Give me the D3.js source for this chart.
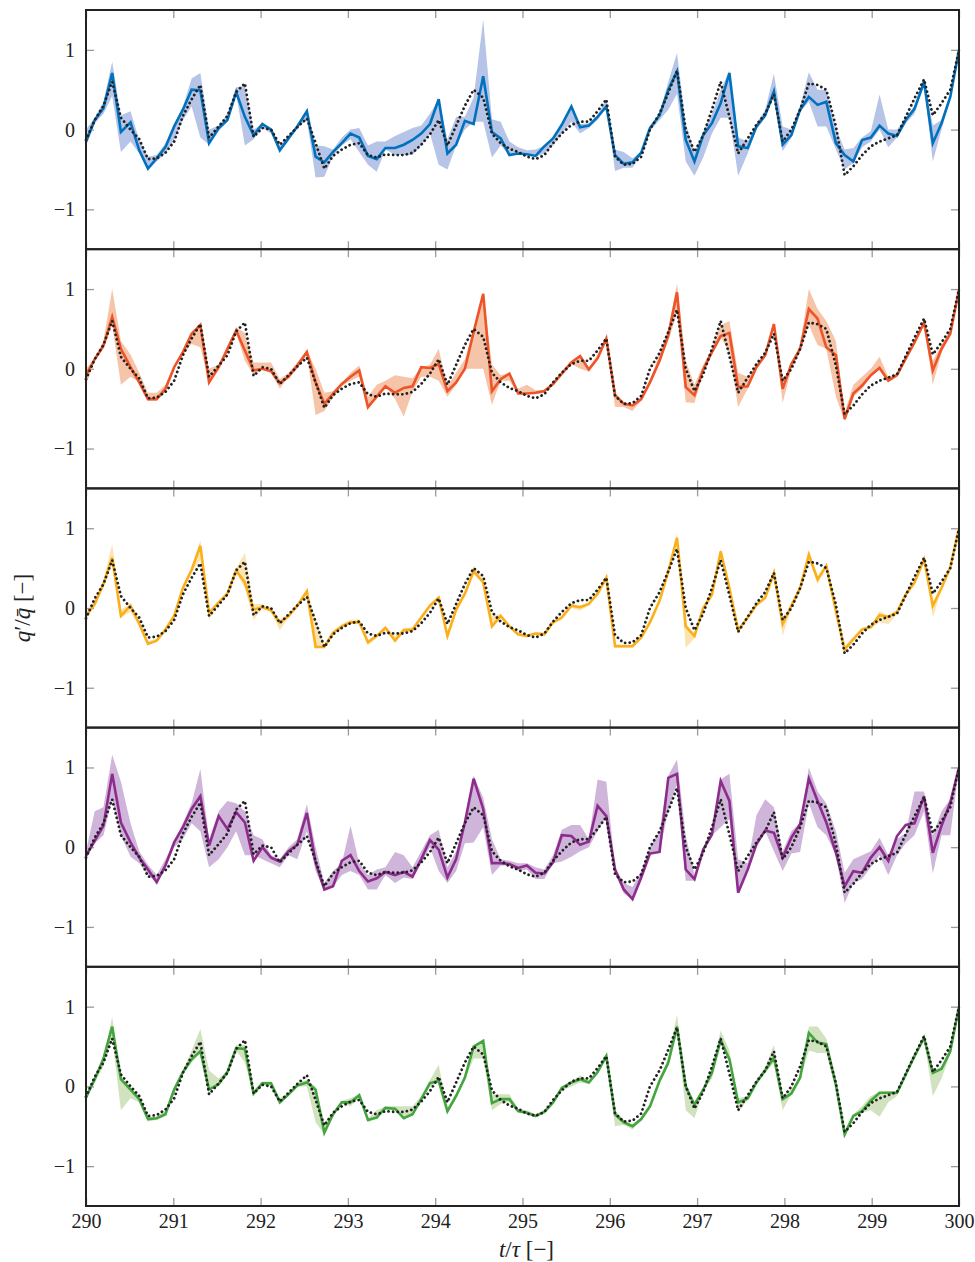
<!DOCTYPE html>
<html>
<head>
<meta charset="utf-8">
<script src="https://cdn.jsdelivr.net/npm/d3@7"></script>
<style>
body { margin: 0; background: #fff; }
svg { display: block; }
</style>
</head>
<body>
<div id="chart"></div>
<script>
const w = 975;
const h = 1262;

// sample times t/tau
const times = [
	290.00, 290.10, 290.20, 290.30, 290.40, 290.51, 290.61, 290.71, 290.81, 290.91,
	291.01, 291.11, 291.21, 291.31, 291.41, 291.52, 291.62, 291.72, 291.82, 291.92,
	292.02, 292.12, 292.22, 292.32, 292.42, 292.53, 292.63, 292.73, 292.83, 292.93,
	293.03, 293.13, 293.23, 293.33, 293.43, 293.54, 293.64, 293.74, 293.84, 293.94,
	294.04, 294.14, 294.24, 294.34, 294.44, 294.55, 294.65, 294.75, 294.85, 294.95,
	295.05, 295.15, 295.25, 295.35, 295.45, 295.56, 295.66, 295.76, 295.86, 295.96,
	296.06, 296.16, 296.26, 296.36, 296.46, 296.57, 296.67, 296.77, 296.87, 296.97,
	297.07, 297.17, 297.27, 297.37, 297.47, 297.58, 297.68, 297.78, 297.88, 297.98,
	298.08, 298.18, 298.28, 298.38, 298.48, 298.59, 298.69, 298.79, 298.89, 298.99,
	299.09, 299.19, 299.29, 299.39, 299.49, 299.60, 299.70, 299.80, 299.90, 300.00
];

// dotted reference signal (same in every panel)
const reference = [
	-0.13, 0.12, 0.30, 0.60, 0.15, 0.00, -0.12, -0.37, -0.36, -0.29,
	-0.15, 0.17, 0.38, 0.56, -0.10, 0.04, 0.17, 0.47, 0.58, -0.09,
	0.02, 0.00, -0.19, -0.08, 0.03, 0.14, -0.17, -0.49, -0.33, -0.25,
	-0.19, -0.17, -0.32, -0.35, -0.31, -0.32, -0.32, -0.29, -0.19, -0.06,
	0.12, -0.20, 0.05, 0.30, 0.50, 0.40, -0.05, -0.17, -0.24, -0.28,
	-0.34, -0.37, -0.32, -0.17, -0.05, 0.06, 0.10, 0.10, 0.23, 0.38,
	-0.34, -0.44, -0.43, -0.34, 0.00, 0.20, 0.46, 0.74, 0.00, -0.28,
	-0.07, 0.25, 0.60, 0.16, -0.30, -0.11, 0.06, 0.20, 0.44, -0.15,
	0.00, 0.25, 0.58, 0.56, 0.50, 0.04, -0.57, -0.46, -0.32, -0.21,
	-0.15, -0.11, -0.07, 0.16, 0.39, 0.63, 0.18, 0.33, 0.50, 1.00
];

const blueMean = [
	-0.15, 0.12, 0.27, 0.71, -0.03, 0.09, -0.26, -0.49, -0.36, -0.22,
	0.04, 0.25, 0.50, 0.49, -0.17, 0.02, 0.12, 0.47, 0.16, -0.07,
	0.07, 0.00, -0.26, -0.11, 0.04, 0.23, -0.34, -0.41, -0.28, -0.17,
	-0.05, -0.10, -0.33, -0.37, -0.23, -0.23, -0.19, -0.13, -0.05, 0.07,
	0.38, -0.30, -0.19, 0.11, 0.07, 0.67, -0.03, -0.11, -0.32, -0.30,
	-0.31, -0.33, -0.21, -0.11, 0.06, 0.29, 0.03, 0.05, 0.16, 0.29,
	-0.32, -0.43, -0.41, -0.29, 0.02, 0.18, 0.50, 0.73, -0.13, -0.40,
	-0.07, 0.08, 0.33, 0.71, -0.21, -0.23, 0.04, 0.18, 0.48, -0.19,
	-0.07, 0.25, 0.41, 0.31, 0.35, -0.17, -0.32, -0.40, -0.13, -0.10,
	0.05, -0.05, -0.08, 0.12, 0.26, 0.60, -0.17, 0.08, 0.41, 1.00
];
const blueLo = [
	-0.21, 0.08, 0.20, 0.42, -0.28, -0.15, -0.30, -0.50, -0.40, -0.30,
	-0.13, 0.12, 0.29, -0.10, -0.19, -0.02, 0.10, 0.45, -0.20, -0.12,
	0.02, -0.05, -0.27, -0.12, 0.02, 0.12, -0.60, -0.59, -0.33, -0.20,
	-0.12, -0.28, -0.44, -0.53, -0.25, -0.32, -0.32, -0.32, -0.20, -0.05,
	-0.44, -0.50, -0.20, 0.00, 0.10, 0.10, -0.35, -0.20, -0.32, -0.30,
	-0.32, -0.34, -0.30, -0.20, -0.05, 0.10, -0.05, 0.02, 0.12, 0.28,
	-0.52, -0.48, -0.48, -0.30, -0.02, 0.12, 0.25, 0.45, -0.40, -0.58,
	-0.35, -0.05, 0.15, 0.15, -0.58, -0.30, 0.00, 0.15, 0.40, -0.27,
	-0.10, 0.22, 0.35, 0.04, 0.04, -0.25, -0.50, -0.42, -0.22, -0.15,
	0.00, -0.22, -0.10, 0.08, 0.20, 0.55, -0.40, 0.00, 0.38, 1.00
];
const blueHi = [
	0.00, 0.15, 0.35, 0.85, 0.18, 0.23, -0.13, -0.34, -0.32, -0.17,
	0.06, 0.29, 0.64, 0.71, 0.00, 0.05, 0.20, 0.53, 0.55, 0.00,
	0.07, 0.02, -0.20, -0.07, 0.06, 0.20, -0.20, -0.21, -0.25, -0.10,
	0.00, 0.02, -0.20, -0.15, -0.15, -0.08, -0.03, 0.02, 0.05, 0.20,
	0.38, -0.12, 0.16, 0.16, 0.40, 1.38, 0.13, 0.10, -0.15, -0.22,
	-0.26, -0.25, -0.20, -0.10, 0.08, 0.29, 0.07, 0.08, 0.18, 0.38,
	-0.25, -0.28, -0.36, -0.28, 0.02, 0.20, 0.60, 0.96, 0.08, -0.28,
	-0.02, 0.20, 0.50, 0.74, -0.10, -0.15, 0.08, 0.25, 0.70, 0.04,
	0.00, 0.30, 0.72, 0.50, 0.50, 0.02, -0.25, -0.23, -0.10, -0.02,
	0.44, 0.00, 0.00, 0.15, 0.30, 0.65, 0.05, 0.12, 0.45, 1.00
];

const orangeMean = [
	-0.08, 0.12, 0.29, 0.65, 0.25, 0.02, -0.17, -0.38, -0.38, -0.25,
	0.02, 0.21, 0.44, 0.55, -0.17, 0.02, 0.25, 0.48, 0.23, -0.02,
	0.00, -0.03, -0.18, -0.10, 0.04, 0.21, -0.17, -0.44, -0.31, -0.19,
	-0.10, -0.02, -0.48, -0.35, -0.22, -0.30, -0.24, -0.22, 0.02, 0.01,
	0.06, -0.28, -0.17, 0.00, 0.46, 0.94, -0.28, -0.13, -0.06, -0.31,
	-0.31, -0.30, -0.28, -0.19, -0.06, 0.08, 0.16, -0.01, 0.13, 0.38,
	-0.33, -0.44, -0.46, -0.38, -0.17, 0.10, 0.42, 0.96, -0.23, -0.33,
	-0.01, 0.21, 0.41, 0.45, -0.23, -0.22, 0.02, 0.17, 0.56, -0.25,
	0.06, 0.25, 0.75, 0.63, 0.27, 0.17, -0.63, -0.31, -0.21, -0.08,
	0.01, -0.15, -0.08, 0.13, 0.33, 0.58, -0.02, 0.25, 0.44, 0.99
];
const orangeLo = [
	-0.20, 0.10, 0.25, 0.55, -0.20, -0.10, -0.17, -0.40, -0.40, -0.28,
	0.00, 0.18, 0.31, 0.27, -0.17, 0.00, 0.20, 0.45, 0.10, -0.08,
	0.00, -0.05, -0.25, -0.10, 0.00, 0.18, -0.58, -0.53, -0.36, -0.22,
	-0.15, -0.10, -0.48, -0.38, -0.22, -0.38, -0.60, -0.28, -0.10, -0.10,
	-0.15, -0.35, -0.20, 0.00, 0.00, 0.00, -0.45, -0.15, -0.15, -0.32,
	-0.32, -0.32, -0.30, -0.21, -0.08, 0.06, 0.00, -0.03, 0.12, 0.35,
	-0.48, -0.48, -0.53, -0.40, -0.19, 0.08, 0.35, 0.70, -0.42, -0.43,
	-0.05, 0.18, 0.40, 0.20, -0.48, -0.25, 0.00, 0.15, 0.50, -0.43,
	0.00, 0.22, 0.55, 0.30, 0.25, -0.35, -0.65, -0.35, -0.25, -0.10,
	0.00, -0.16, -0.10, 0.10, 0.30, 0.55, -0.20, 0.20, 0.42, 1.00
];
const orangeHi = [
	0.00, 0.13, 0.35, 1.00, 0.35, 0.18, -0.05, -0.30, -0.30, -0.20,
	0.05, 0.22, 0.45, 0.58, 0.00, 0.05, 0.28, 0.52, 0.45, 0.08,
	0.08, 0.08, -0.13, -0.05, 0.08, 0.23, 0.00, -0.30, -0.28, -0.18,
	-0.05, 0.04, -0.35, -0.20, -0.15, -0.08, -0.10, -0.12, 0.02, 0.05,
	0.25, -0.22, -0.05, 0.12, 0.50, 0.95, 0.05, -0.08, -0.05, -0.25,
	-0.20, -0.27, -0.27, -0.17, -0.04, 0.10, 0.18, 0.02, 0.18, 0.42,
	-0.30, -0.42, -0.44, -0.36, -0.15, 0.20, 0.50, 1.07, 0.10, -0.20,
	0.05, 0.25, 0.55, 0.60, -0.05, -0.10, 0.05, 0.20, 0.58, -0.15,
	0.06, 0.30, 1.00, 0.75, 0.60, 0.35, -0.55, -0.20, -0.10, 0.00,
	0.15, -0.10, -0.06, 0.16, 0.35, 0.62, 0.10, 0.30, 0.48, 1.00
];

const yellowMean = [
	-0.10, 0.05, 0.30, 0.63, -0.10, 0.03, -0.20, -0.45, -0.41, -0.27,
	-0.10, 0.25, 0.48, 0.78, -0.06, 0.07, 0.18, 0.47, 0.32, -0.02,
	0.01, -0.03, -0.18, -0.10, 0.03, 0.21, -0.49, -0.49, -0.31, -0.23,
	-0.18, -0.18, -0.43, -0.35, -0.25, -0.41, -0.28, -0.27, -0.12, 0.03,
	0.13, -0.35, -0.02, 0.18, 0.46, 0.32, -0.23, -0.10, -0.23, -0.33,
	-0.35, -0.32, -0.33, -0.18, -0.12, 0.03, 0.01, 0.05, 0.18, 0.38,
	-0.48, -0.48, -0.48, -0.37, -0.18, 0.09, 0.46, 0.88, -0.23, -0.35,
	0.00, 0.17, 0.71, 0.25, -0.28, -0.12, 0.04, 0.13, 0.44, -0.20,
	0.03, 0.25, 0.67, 0.36, 0.53, -0.04, -0.52, -0.39, -0.27, -0.24,
	-0.09, -0.11, -0.05, 0.17, 0.32, 0.61, 0.03, 0.25, 0.51, 1.00
];
const yellowLo = [
	-0.12, 0.03, 0.28, 0.55, -0.12, -0.05, -0.22, -0.46, -0.42, -0.28,
	-0.12, 0.22, 0.45, 0.60, -0.14, 0.05, 0.16, 0.44, 0.25, -0.15,
	0.00, -0.05, -0.28, -0.12, 0.00, 0.18, -0.50, -0.50, -0.33, -0.25,
	-0.20, -0.20, -0.47, -0.37, -0.27, -0.42, -0.30, -0.30, -0.14, 0.00,
	0.10, -0.40, -0.05, 0.15, 0.44, 0.30, -0.25, -0.12, -0.25, -0.35,
	-0.37, -0.34, -0.35, -0.20, -0.14, 0.00, -0.03, 0.03, 0.16, 0.36,
	-0.50, -0.50, -0.50, -0.39, -0.20, 0.07, 0.44, 0.85, -0.50, -0.38,
	-0.02, 0.12, 0.65, 0.22, -0.30, -0.14, 0.02, 0.10, 0.42, -0.35,
	0.00, 0.23, 0.60, 0.30, 0.50, -0.10, -0.55, -0.41, -0.29, -0.26,
	-0.18, -0.20, -0.08, 0.15, 0.30, 0.59, -0.12, 0.23, 0.49, 1.00
];
const yellowHi = [
	-0.05, 0.08, 0.35, 0.80, -0.02, 0.05, -0.15, -0.42, -0.38, -0.25,
	-0.08, 0.27, 0.50, 0.85, -0.05, 0.09, 0.20, 0.50, 0.69, 0.05,
	0.05, 0.00, -0.15, -0.08, 0.05, 0.23, -0.15, -0.45, -0.30, -0.20,
	-0.15, -0.14, -0.40, -0.33, -0.23, -0.35, -0.25, -0.24, -0.10, 0.05,
	0.15, -0.30, 0.00, 0.20, 0.53, 0.36, -0.10, -0.07, -0.21, -0.31,
	-0.33, -0.30, -0.31, -0.16, -0.10, 0.05, 0.03, 0.07, 0.20, 0.41,
	-0.45, -0.46, -0.46, -0.35, -0.16, 0.11, 0.48, 0.93, -0.20, -0.32,
	0.02, 0.20, 0.75, 0.28, -0.26, -0.10, 0.06, 0.15, 0.46, -0.18,
	0.05, 0.27, 0.70, 0.36, 0.55, -0.02, -0.48, -0.37, -0.25, -0.22,
	-0.04, -0.10, -0.04, 0.19, 0.34, 0.63, 0.05, 0.27, 0.53, 1.00
];

const purpleMean = [
	-0.11, 0.08, 0.27, 0.92, 0.31, 0.06, -0.13, -0.28, -0.44, -0.23,
	0.06, 0.25, 0.48, 0.64, 0.02, 0.39, 0.23, 0.44, 0.31, -0.17,
	0.00, -0.13, -0.18, -0.05, 0.03, 0.43, -0.19, -0.53, -0.49, -0.17,
	-0.10, -0.30, -0.43, -0.39, -0.31, -0.35, -0.31, -0.37, -0.15, 0.09,
	-0.03, -0.38, -0.15, 0.31, 0.86, 0.48, -0.20, -0.20, -0.21, -0.26,
	-0.23, -0.32, -0.33, -0.19, 0.15, 0.14, 0.03, 0.07, 0.52, 0.39,
	-0.28, -0.53, -0.65, -0.38, -0.08, -0.06, 0.87, 0.92, -0.28, -0.40,
	-0.03, 0.16, 0.83, 0.58, -0.57, -0.28, 0.04, 0.21, 0.18, -0.13,
	0.12, 0.29, 0.86, 0.58, 0.31, -0.07, -0.49, -0.30, -0.32, -0.13,
	0.00, -0.17, 0.14, 0.28, 0.30, 0.64, -0.07, 0.27, 0.56, 1.00
];
const purpleLo = [
	-0.12, 0.05, 0.15, 0.60, 0.15, -0.12, -0.20, -0.35, -0.45, -0.25,
	0.00, 0.10, 0.30, 0.20, -0.25, -0.15, 0.00, 0.20, -0.10, -0.10,
	-0.15, -0.20, -0.25, -0.10, -0.15, 0.20, -0.30, -0.55, -0.50, -0.35,
	-0.30, -0.35, -0.53, -0.53, -0.35, -0.45, -0.38, -0.40, -0.20, 0.00,
	-0.30, -0.45, -0.30, 0.05, 0.06, 0.25, -0.35, -0.23, -0.23, -0.30,
	-0.28, -0.40, -0.40, -0.20, -0.18, -0.12, -0.05, 0.00, 0.20, 0.38,
	-0.32, -0.58, -0.65, -0.40, -0.10, -0.05, 0.45, 0.80, -0.42, -0.42,
	-0.05, 0.15, 0.25, 0.35, -0.55, -0.30, 0.00, 0.20, -0.05, -0.30,
	-0.08, -0.06, 0.55, 0.25, 0.15, -0.10, -0.70, -0.45, -0.40, -0.25,
	-0.10, -0.35, -0.10, 0.05, 0.15, 0.45, -0.33, 0.15, 0.15, 1.00
];
const purpleHi = [
	-0.05, 0.45, 0.50, 1.16, 0.82, 0.30, -0.05, -0.22, -0.35, -0.15,
	0.06, 0.30, 0.55, 0.98, 0.10, 0.45, 0.58, 0.55, 0.45, 0.15,
	0.10, -0.10, -0.15, 0.00, 0.10, 0.54, 0.00, -0.45, -0.30, -0.20,
	0.27, -0.20, -0.35, -0.28, -0.25, -0.06, -0.10, -0.25, -0.05, 0.15,
	0.22, -0.25, -0.05, 0.30, 0.90, 0.62, 0.10, -0.15, -0.17, -0.20,
	-0.20, -0.25, -0.28, -0.10, 0.22, 0.28, 0.28, 0.10, 0.85, 0.82,
	-0.25, -0.45, -0.50, -0.30, 0.00, 0.20, 0.90, 1.10, 0.15, -0.35,
	0.00, 0.20, 0.85, 0.92, -0.15, -0.20, 0.40, 0.60, 0.50, -0.05,
	0.20, 0.30, 1.00, 0.70, 0.55, 0.20, -0.32, -0.15, -0.10, -0.05,
	0.12, -0.10, 0.10, 0.18, 0.70, 0.70, 0.15, 0.45, 0.60, 1.00
];

const greenMean = [
	-0.14, 0.09, 0.35, 0.75, 0.09, -0.04, -0.16, -0.41, -0.40, -0.35,
	-0.04, 0.18, 0.34, 0.44, -0.04, 0.03, 0.18, 0.48, 0.47, -0.09,
	0.04, 0.04, -0.20, -0.10, 0.01, 0.05, -0.04, -0.58, -0.35, -0.20,
	-0.20, -0.11, -0.42, -0.39, -0.27, -0.28, -0.40, -0.35, -0.16, 0.04,
	0.07, -0.31, -0.12, 0.11, 0.50, 0.57, -0.21, -0.16, -0.16, -0.31,
	-0.33, -0.37, -0.32, -0.20, -0.02, 0.05, 0.09, 0.05, 0.18, 0.38,
	-0.35, -0.45, -0.50, -0.41, -0.25, 0.07, 0.30, 0.75, 0.00, -0.23,
	-0.04, 0.17, 0.58, 0.34, -0.20, -0.15, 0.05, 0.20, 0.36, -0.16,
	-0.09, 0.11, 0.67, 0.55, 0.53, 0.02, -0.60, -0.37, -0.31, -0.18,
	-0.08, -0.08, -0.08, 0.15, 0.38, 0.61, 0.17, 0.22, 0.44, 1.00
];
const greenLo = [
	-0.15, 0.05, 0.25, 0.60, -0.30, -0.15, -0.20, -0.44, -0.42, -0.37,
	-0.08, 0.15, 0.30, 0.42, -0.05, 0.00, 0.15, 0.45, 0.30, -0.10,
	0.02, 0.00, -0.22, -0.12, 0.00, 0.00, -0.45, -0.60, -0.38, -0.22,
	-0.25, -0.15, -0.45, -0.40, -0.30, -0.30, -0.40, -0.37, -0.18, 0.00,
	0.05, -0.35, -0.15, 0.08, 0.35, 0.35, -0.30, -0.22, -0.20, -0.33,
	-0.35, -0.39, -0.34, -0.22, -0.05, 0.00, 0.05, 0.03, 0.15, 0.36,
	-0.50, -0.48, -0.54, -0.43, -0.27, 0.05, 0.25, 0.70, -0.30, -0.40,
	-0.06, 0.10, 0.55, 0.30, -0.32, -0.17, 0.03, 0.17, 0.30, -0.30,
	-0.10, 0.08, 0.45, 0.42, 0.42, -0.05, -0.65, -0.40, -0.33, -0.30,
	-0.38, -0.20, -0.12, 0.12, 0.35, 0.58, -0.12, 0.10, 0.40, 1.00
];
const greenHi = [
	-0.10, 0.10, 0.35, 0.87, 0.10, 0.00, -0.12, -0.38, -0.38, -0.30,
	-0.02, 0.20, 0.45, 0.72, 0.20, 0.10, 0.20, 0.52, 0.52, -0.05,
	0.06, 0.06, -0.15, -0.08, 0.05, 0.08, 0.00, -0.45, -0.32, -0.18,
	-0.15, -0.10, -0.40, -0.30, -0.25, -0.25, -0.25, -0.25, -0.12, 0.08,
	0.27, -0.28, -0.08, 0.12, 0.50, 0.58, -0.10, -0.10, -0.10, -0.28,
	-0.30, -0.35, -0.30, -0.18, 0.00, 0.05, 0.14, 0.07, 0.20, 0.40,
	-0.30, -0.42, -0.48, -0.40, -0.23, 0.10, 0.35, 0.90, 0.02, -0.20,
	-0.02, 0.25, 0.70, 0.45, -0.15, -0.12, 0.08, 0.25, 0.52, -0.12,
	-0.03, 0.12, 0.75, 0.75, 0.60, 0.10, -0.55, -0.35, -0.25, -0.12,
	-0.07, -0.06, -0.06, 0.18, 0.40, 0.65, 0.20, 0.25, 0.46, 1.00
];

const xTicks = [290, 291, 292, 293, 294, 295, 296, 297, 298, 299, 300];
const yTicks = [-1, 0, 1];

const panels = [
	{ mean: blueMean, lo: blueLo, hi: blueHi, line: '#0072bd', band: '#b6c4e7' },
	{ mean: orangeMean, lo: orangeLo, hi: orangeHi, line: '#ee5427', band: '#f6c4a8' },
	{ mean: yellowMean, lo: yellowLo, hi: yellowHi, line: '#fbb01a', band: '#fbe3b2' },
	{ mean: purpleMean, lo: purpleLo, hi: purpleHi, line: '#8e2c8e', band: '#cfb5da' },
	{ mean: greenMean, lo: greenLo, hi: greenHi, line: '#42a53e', band: '#d0e2be' }
];

const left = 86;
const right = 959;
const top0 = 10;
const panelH = 239.2;
const serif = '"Liberation Serif", "DejaVu Serif", serif';

const svg = d3
	.select('#chart')
	.append('svg')
	.attr('width', w)
	.attr('height', h);

const xScale = d3.scaleLinear().domain([290, 300]).range([left, right]);
const idx = d3.range(times.length);

function styleAxis(g) {
	g.select('.domain').remove();
	g.selectAll('.tick line').attr('stroke', '#9a9a9a').attr('stroke-width', 1.3);
	g.selectAll('.tick text').attr('fill', '#222');
	g.attr('font-family', serif).attr('font-size', 20);
}

panels.forEach((p, i) => {
	const y0 = top0 + i * panelH;
	const yScale = d3.scaleLinear().domain([-1.5, 1.5]).range([y0 + panelH, y0]);
	const g = svg.append('g');

	// ticks on all four sides, pointing inwards
	const isLast = i === panels.length - 1;
	g.append('g')
		.attr('transform', `translate(0, ${y0 + panelH})`)
		.call(
			d3.axisBottom(xScale).tickValues(xTicks).tickSize(-8).tickPadding(8)
				.tickFormat(isLast ? d3.format('d') : () => '')
		)
		.call(styleAxis);
	g.append('g')
		.attr('transform', `translate(0, ${y0})`)
		.call(d3.axisTop(xScale).tickValues(xTicks).tickSize(-8).tickFormat(() => ''))
		.call(styleAxis);
	g.append('g')
		.attr('transform', `translate(${left}, 0)`)
		.call(d3.axisLeft(yScale).tickValues(yTicks).tickSize(-8).tickPadding(11).tickFormat(d3.format('d')))
		.call(styleAxis);
	g.append('g')
		.attr('transform', `translate(${right}, 0)`)
		.call(d3.axisRight(yScale).tickValues(yTicks).tickSize(-8).tickFormat(() => ''))
		.call(styleAxis);

	g.append('path')
		.datum(idx)
		.attr('fill', p.band)
		.attr('d', d3.area()
			.x((k) => xScale(times[k]))
			.y0((k) => yScale(p.lo[k]))
			.y1((k) => yScale(p.hi[k])));

	g.append('path')
		.datum(idx)
		.attr('fill', 'none')
		.attr('stroke', p.line)
		.attr('stroke-width', 2.6)
		.attr('stroke-linejoin', 'miter')
		.attr('d', d3.line().x((k) => xScale(times[k])).y((k) => yScale(p.mean[k])));

	g.append('path')
		.datum(idx)
		.attr('fill', 'none')
		.attr('stroke', '#222')
		.attr('stroke-width', 2.8)
		.attr('stroke-linecap', 'round')
		.attr('stroke-dasharray', '0.01 4.6')
		.attr('d', d3.line().x((k) => xScale(times[k])).y((k) => yScale(reference[k])));

	g.append('rect')
		.attr('x', left)
		.attr('y', y0)
		.attr('width', right - left)
		.attr('height', panelH)
		.attr('fill', 'none')
		.attr('stroke', '#222')
		.attr('stroke-width', 2);
});

// axis titles
const xLabel = svg.append('text')
	.attr('x', (left + right) / 2 + 4)
	.attr('y', 1257)
	.attr('text-anchor', 'middle')
	.attr('font-family', serif)
	.attr('font-size', 23)
	.attr('fill', '#222');
xLabel.append('tspan').attr('font-style', 'italic').text('t');
xLabel.append('tspan').text('/');
xLabel.append('tspan').attr('font-style', 'italic').text('τ');
xLabel.append('tspan').text(' [−]');

const yLabel = svg.append('text')
	.attr('transform', `translate(30, ${top0 + 2.5 * panelH}) rotate(-90)`)
	.attr('text-anchor', 'middle')
	.attr('font-family', serif)
	.attr('font-size', 23)
	.attr('fill', '#222');
yLabel.append('tspan').attr('font-style', 'italic').text('q');
yLabel.append('tspan').text('′/');
yLabel.append('tspan').attr('font-style', 'italic').text('q\u0304');
yLabel.append('tspan').text(' [−]');
</script>
</body>
</html>
